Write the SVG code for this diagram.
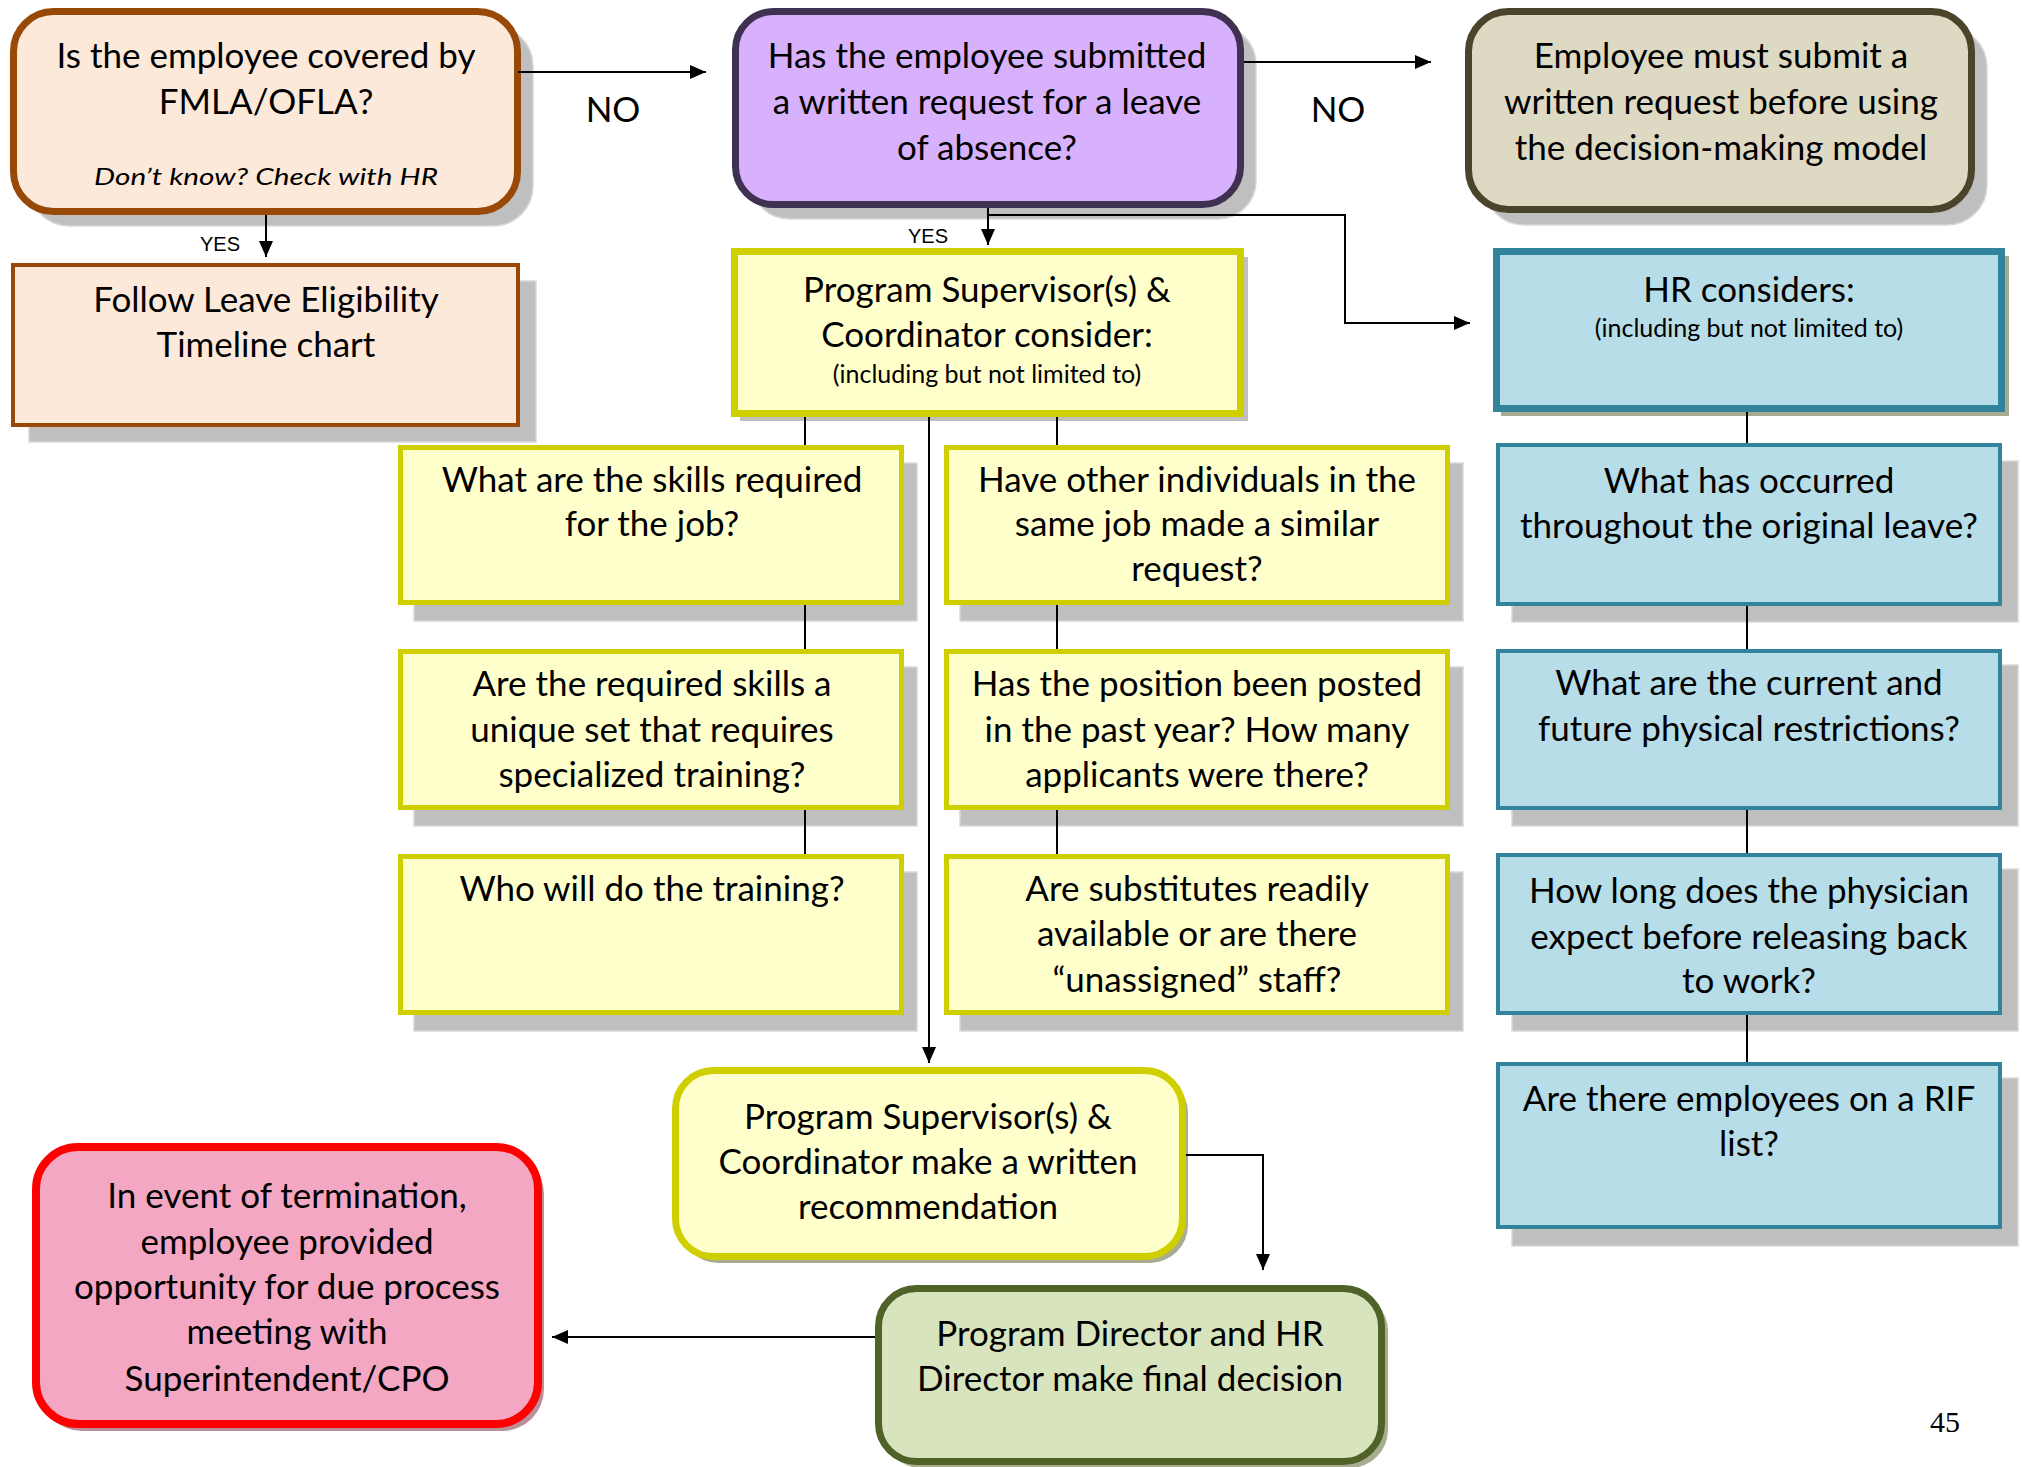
<svg xmlns="http://www.w3.org/2000/svg" width="2022" height="1467" viewBox="0 0 2022 1467">
  <style>
    .t { font-family: Lato, 'Liberation Sans', sans-serif; font-size: 35px; text-anchor: middle; fill: #000; }
    .s { font-family: Lato, 'Liberation Sans', sans-serif; font-size: 25px; text-anchor: middle; fill: #000; }
    .lbl { font-family: 'Liberation Sans', Arial, sans-serif; font-size: 20px; text-anchor: middle; fill: #000; }
    .hand { font-family: Lato, 'DejaVu Sans', sans-serif; font-style: italic; font-size: 24px; text-anchor: middle; fill: #000; }
    .pg { font-family: 'Liberation Serif', 'Times New Roman', serif; font-size: 30px; text-anchor: middle; fill: #000; }
    .sh { fill: #bfbfbf; stroke: #d9d9d9; stroke-width: 1.5; }
    .peach { fill: #fde9d9; stroke: #984807; }
    .purple { fill: #d7b1fb; stroke: #3f3151; stroke-width: 7; }
    .tan { fill: #ddd9c3; stroke: #4a452a; stroke-width: 7; }
    .yel { fill: #ffffcc; stroke: #cfcf00; }
    .blue { fill: #b7dde8; stroke: #31849b; }
    .green { fill: #d7e4bd; stroke: #4f6228; stroke-width: 7; }
    .red { fill: #f4a7c3; stroke: #ff0000; stroke-width: 8; }
    .ln { fill: none; stroke: #000; stroke-width: 2; }
  </style>
  <defs>
    <marker id="arrow" markerUnits="userSpaceOnUse" markerWidth="16" markerHeight="14" refX="16" refY="7" orient="auto">
      <path d="M0,0 L16,7 L0,14 z" fill="#000"/>
    </marker>
  </defs>

  <!-- top row -->
  <g id="n-fmla">
    <rect class="sh" x="29" y="26" width="504" height="200" rx="40"/>
    <rect class="peach" x="13.5" y="11.5" width="504" height="200" rx="40" stroke-width="7"/>
    <text class="t" x="266" y="68">Is the employee covered by</text>
    <text class="t" x="266" y="114">FMLA/OFLA?</text>
    <text class="hand" x="266" y="185" textLength="344" lengthAdjust="spacingAndGlyphs">Don’t know? Check with HR</text>
  </g>
  <text id="lbl-no-1" class="t" x="613" y="122">NO</text>
  <text id="lbl-yes-1" class="lbl" x="220" y="251">YES</text>

  <g id="n-follow">
    <rect class="sh" x="29" y="281" width="507" height="161"/>
    <rect class="peach" x="13" y="265" width="505" height="160" stroke-width="4"/>
    <text class="t" x="266" y="312">Follow Leave Eligibility</text>
    <text class="t" x="266" y="357">Timeline chart</text>
  </g>

  <g id="n-request">
    <rect class="sh" x="751" y="26" width="505" height="193" rx="38"/>
    <rect class="purple" x="735.5" y="11.5" width="505" height="193" rx="38"/>
    <text class="t" x="987" y="68">Has the employee submitted</text>
    <text class="t" x="987" y="114">a written request for a leave</text>
    <text class="t" x="987" y="160">of absence?</text>
  </g>
  <text id="lbl-no-2" class="t" x="1338" y="122">NO</text>
  <text id="lbl-yes-2" class="lbl" x="928" y="243">YES</text>

  <g id="n-submit">
    <rect class="sh" x="1484" y="27" width="503" height="198" rx="40"/>
    <rect class="tan" x="1468.5" y="11.5" width="503" height="198" rx="40"/>
    <text class="t" x="1721" y="68">Employee must submit a</text>
    <text class="t" x="1721" y="114">written request before using</text>
    <text class="t" x="1721" y="160">the decision-making model</text>
  </g>

  <!-- column headers -->
  <g id="n-psc-consider">
    <rect x="740" y="257" width="508" height="164" fill="#c0c0c0"/>
    <rect class="yel" x="734.5" y="251.5" width="506" height="162" stroke-width="7"/>
    <text class="t" x="987" y="302">Program Supervisor(s) &amp;</text>
    <text class="t" x="987" y="347">Coordinator consider:</text>
    <text class="s" x="987" y="383">(including but not limited to)</text>
  </g>

  <g id="n-hr-consider">
    <rect x="1501" y="256" width="508" height="160" fill="#a7aa8e"/>
    <rect class="blue" x="1496.5" y="251.5" width="505" height="157" stroke-width="7"/>
    <text class="t" x="1749" y="302">HR considers:</text>
    <text class="s" x="1749" y="337">(including but not limited to)</text>
  </g>

  <!-- supervisor questions, left column -->
  <g id="n-skills">
    <rect class="sh" x="414" y="463" width="503" height="158"/>
    <rect class="yel" x="400.5" y="447.5" width="501" height="155" stroke-width="5"/>
    <text class="t" x="652" y="492">What are the skills required</text>
    <text class="t" x="652" y="536">for the job?</text>
  </g>
  <g id="n-unique">
    <rect class="sh" x="414" y="667" width="503" height="159"/>
    <rect class="yel" x="400.5" y="651.5" width="501" height="156" stroke-width="5"/>
    <text class="t" x="652" y="696">Are the required skills a</text>
    <text class="t" x="652" y="742">unique set that requires</text>
    <text class="t" x="652" y="787">specialized training?</text>
  </g>
  <g id="n-training">
    <rect class="sh" x="414" y="872" width="503" height="159"/>
    <rect class="yel" x="400.5" y="856.5" width="501" height="156" stroke-width="5"/>
    <text class="t" x="652" y="901">Who will do the training?</text>
  </g>

  <!-- supervisor questions, right column -->
  <g id="n-others">
    <rect class="sh" x="960" y="463" width="503" height="158"/>
    <rect class="yel" x="946.5" y="447.5" width="501" height="155" stroke-width="5"/>
    <text class="t" x="1197" y="492">Have other individuals in the</text>
    <text class="t" x="1197" y="536">same job made a similar</text>
    <text class="t" x="1197" y="581">request?</text>
  </g>
  <g id="n-posted">
    <rect class="sh" x="960" y="667" width="503" height="159"/>
    <rect class="yel" x="946.5" y="651.5" width="501" height="156" stroke-width="5"/>
    <text class="t" x="1197" y="696">Has the position been posted</text>
    <text class="t" x="1197" y="742">in the past year? How many</text>
    <text class="t" x="1197" y="787">applicants were there?</text>
  </g>
  <g id="n-substitutes">
    <rect class="sh" x="960" y="872" width="503" height="159"/>
    <rect class="yel" x="946.5" y="856.5" width="501" height="156" stroke-width="5"/>
    <text class="t" x="1197" y="901">Are substitutes readily</text>
    <text class="t" x="1197" y="946">available or are there</text>
    <text class="t" x="1197" y="992">“unassigned” staff?</text>
  </g>

  <!-- HR questions -->
  <g id="n-occurred">
    <rect class="sh" x="1512" y="461" width="506" height="161"/>
    <rect class="blue" x="1498" y="445" width="502" height="159" stroke-width="4"/>
    <text class="t" x="1749" y="493">What has occurred</text>
    <text class="t" x="1749" y="538">throughout the original leave?</text>
  </g>
  <g id="n-restrictions">
    <rect class="sh" x="1512" y="665" width="506" height="161"/>
    <rect class="blue" x="1498" y="651" width="502" height="157" stroke-width="4"/>
    <text class="t" x="1749" y="695">What are the current and</text>
    <text class="t" x="1749" y="741">future physical restrictions?</text>
  </g>
  <g id="n-physician">
    <rect class="sh" x="1512" y="869" width="506" height="162"/>
    <rect class="blue" x="1498" y="855" width="502" height="158" stroke-width="4"/>
    <text class="t" x="1749" y="903">How long does the physician</text>
    <text class="t" x="1749" y="949">expect before releasing back</text>
    <text class="t" x="1749" y="993">to work?</text>
  </g>
  <g id="n-rif">
    <rect class="sh" x="1512" y="1078" width="506" height="168"/>
    <rect class="blue" x="1498" y="1064" width="502" height="163" stroke-width="4"/>
    <text class="t" x="1749" y="1111">Are there employees on a RIF</text>
    <text class="t" x="1749" y="1156">list?</text>
  </g>

  <!-- decision path -->
  <g id="n-recommendation">
    <rect x="680" y="1075" width="508" height="188" rx="38" fill="#a9ad90"/>
    <rect class="yel" x="675.5" y="1070.5" width="507" height="186" rx="38" stroke-width="7"/>
    <text class="t" x="928" y="1129">Program Supervisor(s) &amp;</text>
    <text class="t" x="928" y="1174">Coordinator make a written</text>
    <text class="t" x="928" y="1219">recommendation</text>
  </g>

  <g id="n-final">
    <rect x="883" y="1293" width="505" height="175" rx="38" fill="#a9ad90"/>
    <rect class="green" x="878.5" y="1288.5" width="503" height="173" rx="38"/>
    <text class="t" x="1130" y="1346">Program Director and HR</text>
    <text class="t" x="1130" y="1391">Director make final decision</text>
  </g>

  <g id="n-due-process">
    <rect x="40" y="1152" width="504" height="279" rx="42" fill="#b99099"/>
    <rect class="red" x="36" y="1147" width="502" height="277" rx="42"/>
    <text class="t" x="287" y="1208">In event of termination,</text>
    <text class="t" x="287" y="1254">employee provided</text>
    <text class="t" x="287" y="1299">opportunity for due process</text>
    <text class="t" x="287" y="1344">meeting with</text>
    <text class="t" x="287" y="1391">Superintendent/CPO</text>
  </g>

  <text id="page-number" class="pg" x="1945" y="1432">45</text>

  <!-- connectors, drawn over the drop shadows -->
  <g id="connectors">
    <path class="ln" d="M518,72 H706" marker-end="url(#arrow)"/>
    <path class="ln" d="M1244,62 H1431" marker-end="url(#arrow)"/>
    <path class="ln" d="M266,215 V257" marker-end="url(#arrow)"/>
    <path class="ln" d="M988,208 V245" marker-end="url(#arrow)"/>
    <path class="ln" d="M988,215 H1345 V323 H1470" marker-end="url(#arrow)"/>
    <path class="ln" d="M805,417 V445 M805,605 V649 M805,810 V854"/>
    <path class="ln" d="M1057,417 V445 M1057,605 V649 M1057,810 V854"/>
    <path class="ln" d="M929,417 V1063" marker-end="url(#arrow)"/>
    <path class="ln" d="M1747,412 V443 M1747,606 V649 M1747,810 V853 M1747,1015 V1062"/>
    <path class="ln" d="M1186,1155 H1263 V1270" marker-end="url(#arrow)"/>
    <path class="ln" d="M875,1337 H552" marker-end="url(#arrow)"/>
  </g>
</svg>
